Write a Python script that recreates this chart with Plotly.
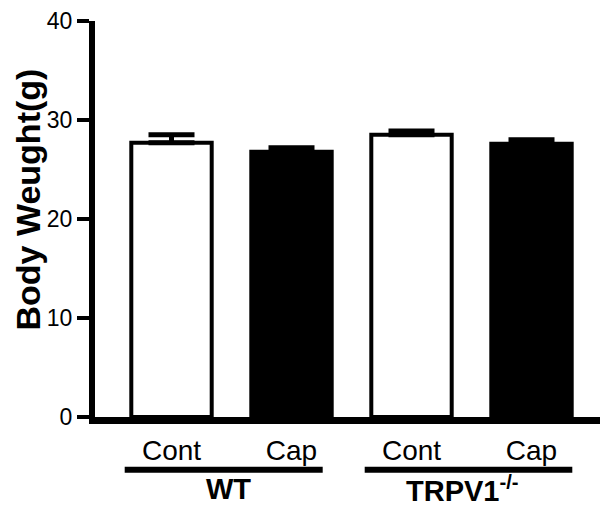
import plotly.graph_objects as go

# ---- data ----
categories = ["Cont", "Cap", "Cont", "Cap"]
means = [27.7, 26.8, 28.5, 27.6]
errors = [0.8, 0.4, 0.4, 0.4]
bar_colors = ["white", "black", "white", "black"]
groups = ["WT", "TRPV1<sup>-/-</sup>"]
group_members = [[0, 1], [2, 3]]
y_ticks = [0, 10, 20, 30, 40]
y_title = "Body Weught(g)"

FONT = "Liberation Sans, Arial, sans-serif"
x_pos = list(range(len(categories)))

fig = go.Figure()
fig.add_trace(go.Bar(
    x=x_pos, y=means, width=0.67,
    marker=dict(color=bar_colors, line=dict(color="black", width=4)),
    error_y=dict(type="data", symmetric=False, array=errors,
                 arrayminus=[0] * len(errors),
                 color="black", thickness=5, width=23),
    showlegend=False,
))

# page body has an 8px margin, so the figure is 600x504 and margins are reduced by 8
fig.update_layout(
    width=600, height=504,
    margin=dict(l=87, r=0, t=11, b=95),
    paper_bgcolor="white", plot_bgcolor="white",
    font=dict(family=FONT, color="black"),
    bargap=0.3,
)
fig.update_xaxes(
    range=[-0.6375, 3.6375], tickvals=x_pos, ticktext=categories,
    showline=True, linewidth=7, linecolor="black", ticks="",
    showgrid=False, zeroline=False,
    tickfont=dict(family=FONT, size=28, color="black"),
    ticklabelstandoff=2,
)
fig.update_yaxes(
    range=[0, 40], tickvals=y_ticks, ticktext=[str(v) for v in y_ticks],
    showline=True, linewidth=6, linecolor="black",
    ticks="outside", ticklen=12, tickwidth=4, tickcolor="black",
    showgrid=False, zeroline=False, ticklabeloverflow="allow",
    tickfont=dict(family=FONT, size=23, color="black"),
)

# y-axis title (as annotation for exact placement)
fig.add_annotation(text="<b>" + y_title + "</b>", xref="paper", yref="paper",
                   x=-0.13, y=0.55, textangle=-90, showarrow=False,
                   xanchor="center", yanchor="middle",
                   font=dict(family=FONT, size=34, color="black"))

# group underline bars and labels
line_pad_left = [-0.39, -0.39]
line_pad_right = [0.26, 0.34]
label_shift = [-3, -9]
for gi, (name, mem) in enumerate(zip(groups, group_members)):
    x0 = mem[0] + line_pad_left[gi]
    x1 = mem[-1] + line_pad_right[gi]
    fig.add_shape(type="line", xref="x", yref="paper",
                  x0=x0, x1=x1, y0=-0.133, y1=-0.133,
                  line=dict(color="black", width=6))
    fig.add_annotation(text="<b>" + name + "</b>", xref="x", yref="paper",
                       x=(mem[0] + mem[-1]) / 2, y=-0.183, xshift=label_shift[gi],
                       showarrow=False, yanchor="middle", xanchor="center",
                       font=dict(family=FONT, size=29, color="black"))

fig.write_html("out.html")
